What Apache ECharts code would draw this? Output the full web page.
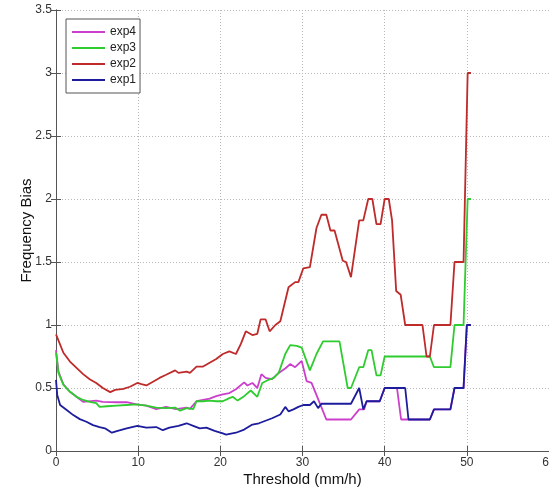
<!DOCTYPE html>
<html>
<head>
<meta charset="utf-8">
<script src="https://cdn.jsdelivr.net/npm/echarts@6/dist/echarts.min.js"></script>
<style>
html,body{margin:0;padding:0;background:#fff;}
#chart{width:549px;height:493px;}
</style>
</head>
<body>
<div id="chart"></div>
<script>
// ---- data ----
var xTicks = [0, 10, 20, 30, 40, 50, 60];
var yTicks = [0, 0.5, 1, 1.5, 2, 2.5, 3, 3.5];
var seriesNames = ['exp4', 'exp3', 'exp2', 'exp1'];

var exp2X = [0,0.9,1.7,2.5,3.3,4.1,4.9,5.7,6.6,7.2,8.2,9,9.9,10.4,11,11.8,12.6,13.4,14.5,14.9,15.9,16.3,17.1,17.9,18.7,19.5,20.3,21.1,21.9,22.5,23.1,23.9,24.5,24.9,25.5,26,26.7,27.3,28.3,29.1,29.5,30.1,30.9,31.7,32.3,32.9,33.4,33.9,34.9,35.3,35.9,36.9,37.4,38,38.5,39,39.5,40,40.5,40.9,41.4,41.95,42.5,44.6,45.1,45.5,46,48,48.5,49.6,50.1,50.5];
var exp2Y = [0.925,0.78,0.71,0.66,0.61,0.57,0.54,0.5,0.467,0.485,0.493,0.51,0.54,0.53,0.52,0.55,0.58,0.605,0.64,0.62,0.63,0.62,0.67,0.67,0.7,0.73,0.77,0.79,0.77,0.85,0.95,0.92,0.93,1.045,1.045,0.95,1.0,1.03,1.3,1.34,1.34,1.45,1.46,1.77,1.875,1.875,1.75,1.75,1.51,1.5,1.38,1.83,1.83,2.0,2.0,1.8,1.8,2.0,2.0,1.83,1.27,1.24,1.0,1.0,0.75,0.75,1.0,1.0,1.5,1.5,3.0,3.0];

var exp3X = [0,0.3,0.9,1.7,2.5,3.3,4.1,4.9,5.3,6.2,7.4,8.6,9.8,11,12.2,13.4,14.5,15.1,15.9,16.7,17.1,17.9,18.7,19.5,20.3,21.1,21.5,22.1,22.9,23.7,24.5,25.1,25.7,26.5,27.1,27.9,28.5,29.3,29.9,30.9,31.7,32.5,34.5,35.5,35.9,36.9,37.4,38,38.4,39,39.5,40,45.5,46,48,48.5,49.6,50.1,50.5];
var exp3Y = [0.78,0.62,0.525,0.47,0.43,0.405,0.39,0.38,0.35,0.355,0.36,0.365,0.37,0.36,0.345,0.34,0.345,0.32,0.34,0.333,0.395,0.395,0.4,0.395,0.395,0.42,0.43,0.4,0.435,0.48,0.43,0.54,0.56,0.58,0.62,0.77,0.84,0.835,0.82,0.64,0.77,0.87,0.87,0.5,0.5,0.665,0.665,0.8,0.8,0.6,0.6,0.75,0.75,0.665,0.665,1.0,1.0,2.0,2.0];

var exp4X = [0,0.3,0.9,1.7,2.5,3.3,4.9,5.7,7.4,8.6,9.8,11,12.2,13.4,14.6,15.9,16.3,17.1,18.7,19.5,20.3,21.1,21.9,22.9,23.3,23.9,24.5,25,25.5,26.3,27.1,27.9,28.5,29.1,29.9,30.5,31.1,32.1,32.9,35.9,36.9,37.5,37.8,39.4,40,41.5,42,42.9,45.5,46,48,48.5,49.6,50,50.5];
var exp4Y = [0.8,0.63,0.53,0.47,0.43,0.39,0.4,0.39,0.387,0.387,0.37,0.36,0.333,0.35,0.333,0.345,0.335,0.395,0.415,0.435,0.45,0.46,0.49,0.545,0.52,0.54,0.5,0.61,0.58,0.57,0.62,0.655,0.69,0.665,0.715,0.555,0.54,0.38,0.25,0.25,0.33,0.33,0.395,0.395,0.5,0.5,0.25,0.25,0.25,0.33,0.33,0.5,0.5,1.0,1.0];

var exp1X = [0,0.15,0.5,1.3,2.1,2.9,3.7,4.5,5.3,5.95,6.8,7.4,8.6,9.9,11,12.2,13,13.8,14.9,15.9,16.7,17.5,18.3,19.3,20.3,20.7,21.9,22.9,23.9,24.7,25.5,26.3,27.3,27.9,28.3,28.9,29.5,30.1,30.9,31.4,31.9,32.3,35.9,36.9,37.4,37.8,39.4,40,42.5,42.9,45.5,46,48,48.5,49.6,50,50.5];
var exp1Y = [0.565,0.445,0.365,0.325,0.285,0.253,0.232,0.205,0.19,0.18,0.145,0.157,0.18,0.2,0.185,0.19,0.165,0.185,0.2,0.22,0.2,0.18,0.185,0.16,0.14,0.13,0.145,0.17,0.21,0.22,0.24,0.26,0.29,0.35,0.315,0.33,0.35,0.365,0.365,0.395,0.34,0.375,0.375,0.5,0.33,0.395,0.395,0.5,0.5,0.25,0.25,0.33,0.33,0.5,0.5,1.0,1.0];

// ---- build ----
function pairs(xs, ys) { return xs.map(function (x, i) { return [x, ys[i]]; }); }
var seriesData = {
  exp4: pairs(exp4X, exp4Y),
  exp3: pairs(exp3X, exp3Y),
  exp2: pairs(exp2X, exp2Y),
  exp1: pairs(exp1X, exp1Y)
};
var colors = { exp4: '#cc3fcc', exp3: '#2fcc2f', exp2: '#bf2a2a', exp1: '#1c1c9c' };

var font = 'Arial, "Liberation Sans", sans-serif';
var gridLine = { show: true, lineStyle: { type: [1, 2], color: '#b8b8b8', width: 1 } };
var axisLineStyle = { show: true, lineStyle: { color: '#555', width: 1 } };

var chart = echarts.init(document.getElementById('chart'), null, { renderer: 'canvas' });
chart.setOption({
  animation: false,
  backgroundColor: '#fff',
  grid: { left: 56, top: 10, width: 493, height: 441, containLabel: false, outerBoundsMode: 'none' },
  legend: {
    data: seriesNames,
    orient: 'vertical',
    left: 66, top: 19,
    icon: 'rect', itemWidth: 33, itemHeight: 2, itemGap: 4,
    padding: [7, 4, 7, 6],
    borderColor: '#555', borderWidth: 1, backgroundColor: '#fff',
    textStyle: { fontFamily: font, fontSize: 12, color: '#222', padding: [0, 0, 0, 0] }
  },
  xAxis: [{
    type: 'value', min: xTicks[0], max: xTicks[xTicks.length - 1], interval: 10,
    name: 'Threshold (mm/h)', nameLocation: 'middle', nameGap: 21, nameMoveOverlap: false,
    nameTextStyle: { fontFamily: font, fontSize: 15, color: '#111' },
    axisLine: axisLineStyle,
    axisTick: { show: true, inside: true, length: 5, lineStyle: { color: '#555' } },
    axisLabel: { fontFamily: font, fontSize: 12, color: '#333', margin: 6, hideOverlap: false },
    splitLine: gridLine
  }, {
    type: 'value', position: 'top', min: xTicks[0], max: xTicks[xTicks.length - 1], interval: 10,
    axisLine: axisLineStyle,
    axisTick: { show: true, inside: true, length: 5, lineStyle: { color: '#555' } },
    axisLabel: { show: false }, splitLine: { show: false }
  }],
  yAxis: [{
    type: 'value', min: yTicks[0], max: yTicks[yTicks.length - 1], interval: 0.5,
    name: 'Frequency Bias', nameLocation: 'middle', nameGap: 22, nameMoveOverlap: false,
    nameTextStyle: { fontFamily: font, fontSize: 15, color: '#111' },
    axisLine: axisLineStyle,
    axisTick: { show: true, inside: true, length: 5, lineStyle: { color: '#555' } },
    axisLabel: { fontFamily: font, fontSize: 12, color: '#333', margin: 4 },
    splitLine: gridLine
  }, {
    type: 'value', position: 'right', min: yTicks[0], max: yTicks[yTicks.length - 1], interval: 0.5,
    axisLine: axisLineStyle,
    axisTick: { show: true, inside: true, length: 5, lineStyle: { color: '#555' } },
    axisLabel: { show: false }, splitLine: { show: false }
  }],
  series: seriesNames.map(function (n, i) {
    return {
      name: n, type: 'line', data: seriesData[n], showSymbol: false, symbol: 'none',
      lineStyle: { color: colors[n], width: 1.8 }, itemStyle: { color: colors[n] },
      z: 2 + i
    };
  })
});
</script>
</body>
</html>
